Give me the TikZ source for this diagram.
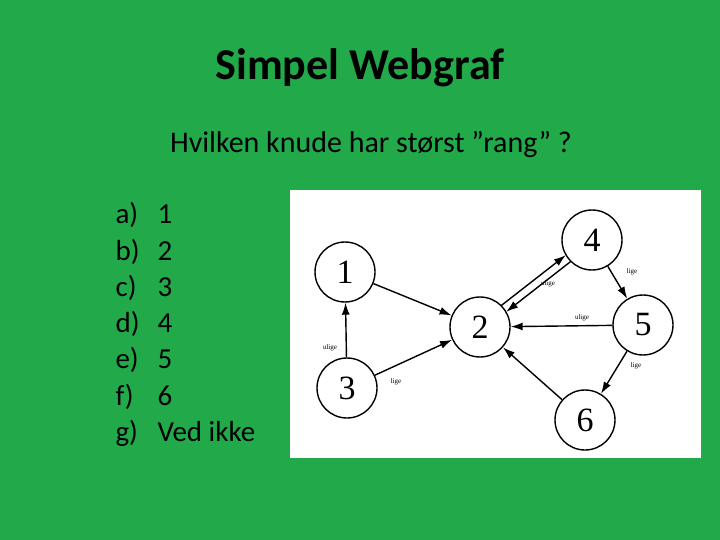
\documentclass[tikz,border=0pt]{standalone}
\usepackage{fontspec}
\setmainfont{Carlito}
\newfontfamily\gfont{Liberation Serif}
\usetikzlibrary{arrows.meta}
\definecolor{bg}{RGB}{34,170,74}
\begin{document}
\begin{tikzpicture}[x=1pt,y=-1pt,
  vtx/.style={circle,draw,line width=1.4pt,minimum size=60pt,inner sep=0pt,font=\gfont\fontsize{34}{34}\selectfont},
  edge/.style={line width=1.4pt,-{Latex[length=12pt,width=8pt]}},
  lbl/.style={font=\gfont\fontsize{7}{7}\selectfont},
  txt/.style={anchor=base west,font=\fontsize{29}{29}\selectfont,text=black}]
\fill[bg] (0,0) rectangle (720,540);
\useasboundingbox (0,0) rectangle (720,540);
\node[font=\bfseries\fontsize{44}{44}\selectfont] (title) at (360,68) {Simpel Webgraf};
\node[font=\fontsize{30}{30}\selectfont] (q) at (371,145) {Hvilken knude har størst ”rang” ?};
\foreach \l/\t [count=\i] in {a)/1,b)/2,c)/3,d)/4,e)/5,f)/6,g)/Ved ikke}{
  \node[txt] (l\i) at (112,{214+36.2*(\i-1)+10}) {\l};
  \node[txt] (t\i) at (154,{214+36.2*(\i-1)+10}) {\t};
}
\fill[white] (290,190) rectangle (701,458);
\node[vtx] (n1) at (345,272) {1};
\node[vtx] (n2) at (480,327) {2};
\node[vtx] (n3) at (347,388) {3};
\node[vtx] (n4) at (592,240) {4};
\node[vtx] (n5) at (643,325) {5};
\node[vtx] (n6) at (585,420) {6};
\coordinate (a24) at (501.3,305.5);
\coordinate (b24) at (565.9,255.1);
\coordinate (a42) at (570.7,261.5);
\coordinate (b42) at (506.1,311.9);
\draw[edge] (n1) -- (n2);
\draw[edge] (n3) -- (n1);
\draw[edge] (n3) -- (n2);
\draw[edge] (a24) -- (b24);
\draw[edge] (a42) -- (b42);
\draw[edge] (n4) -- (n5);
\draw[edge] (n5) -- (n2);
\draw[edge] (n5) -- (n6);
\draw[edge] (n6) -- (n2);
\node[lbl] (e1) at (330,348) {ulige};
\node[lbl] (e2) at (396,382) {lige};
\node[lbl] (e3) at (548,284) {ulige};
\node[lbl] (e4) at (632,272) {lige};
\node[lbl] (e5) at (582,318) {ulige};
\node[lbl] (e6) at (636,366) {lige};
\end{tikzpicture}
\end{document}
